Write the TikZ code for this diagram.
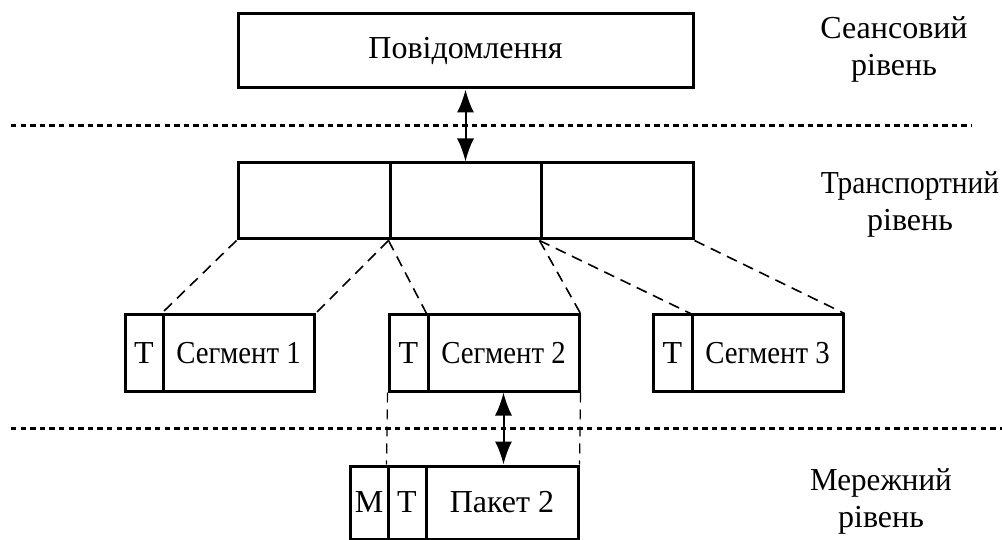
\documentclass[tikz,border=0pt]{standalone}
\usepackage{fontspec}
\usepackage{graphicx}
\setmainfont{Liberation Serif}
\newfontfamily\tnr{Liberation Serif}
\usetikzlibrary{arrows.meta}
\newcommand{\hsq}[2]{\scalebox{#1}[1]{#2}}
\begin{document}
\begin{tikzpicture}[x=1pt,y=-1pt,
  cell/.style={draw,line width=3pt,inner sep=0pt,minimum height=76pt,font=\tnr\fontsize{32}{36}\selectfont},
  split/.style={dash pattern=on 11pt off 7pt,line width=1.6pt},
  vsplit/.style={dash pattern=on 10pt off 7pt,line width=1.2pt},
  levelline/.style={dash pattern=on 5.3pt off 4.3pt,line width=3pt},
  dblarrow/.style={line width=2pt,{Latex[length=23pt,width=17pt]}-{Latex[length=23pt,width=17pt]}},
  lbl/.style={align=center,font=\tnr\fontsize{32}{37}\selectfont,inner sep=0pt}]
\useasboundingbox (0,0) rectangle (1002,540);
% top
\node[cell,minimum width=455pt,minimum height=74pt] (msg) at (465.5,51) {Повідомлення};
% transport cells
\node[cell,minimum width=152pt] (t1) at (314,201) {};
\node[cell,minimum width=151pt] (t2) at (465.5,201) {};
\node[cell,minimum width=152pt] (t3) at (617,201) {};
% segments
\node[cell,minimum width=38pt] (s1T) at (144,353) {Т};
\node[cell,minimum width=151pt] (s1S) at (238.5,353) {\hsq{0.9}{Сегмент 1}};
\node[cell,minimum width=39pt] (s2T) at (408.5,353) {Т};
\node[cell,minimum width=151pt] (s2S) at (503.5,353) {\hsq{0.9}{Сегмент 2}};
\node[cell,minimum width=39pt] (s3T) at (672.5,353) {Т};
\node[cell,minimum width=151pt] (s3S) at (767.5,353) {\hsq{0.9}{Сегмент 3}};
% packet
\node[cell,minimum width=38pt,minimum height=73pt] (pM) at (369,502.5) {М};
\node[cell,minimum width=38pt,minimum height=73pt] (pT) at (407,502.5) {Т};
\node[cell,minimum width=152pt,minimum height=73pt] (pP) at (502,502.5) {Пакет 2};
% level lines
\coordinate (l1a) at (11,126);
\coordinate (l1b) at (972,126);
\coordinate (l2a) at (11,428);
\coordinate (l2b) at (1002,428);
\draw[levelline] (l1a) -- (l1b);
\draw[levelline] (l2a) -- (l2b);
% dashed splits
\draw[split] (t1.south west) -- (s1S.north west);
\draw[split] (t2.south west) -- (s1S.north east);
\draw[split] (t2.south west) -- (s2S.north west);
\draw[split] (t3.south west) -- (s2S.north east);
\draw[split] (t3.south west) -- (s3S.north west);
\draw[split] (t3.south east) -- (s3S.north east);
\draw[vsplit] (s2T.south west) -- (pT.north west);
\draw[vsplit] (s2S.south east) -- (pP.north east);
% arrows
\draw[dblarrow] (msg.south) -- (t2.north);
\draw[dblarrow] (s2S.south) -- (s2S.south |- pP.north);
% labels
\node[lbl] (lses) at (894,49) {Сеансовий\\рівень};
\node[lbl] (ltr) at (910,204) {\hsq{0.92}{Транспортний}\\рівень};
\node[lbl] (lnet) at (881,501) {\hsq{0.97}{Мережний}\\рівень};
\end{tikzpicture}
\end{document}
